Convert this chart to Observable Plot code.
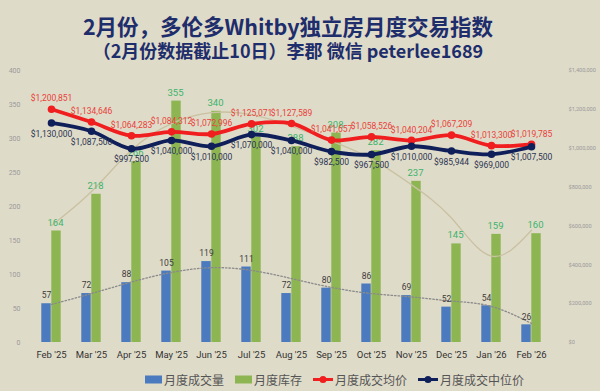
<!DOCTYPE html>
<html><head><meta charset="utf-8">
<script src="https://cdn.jsdelivr.net/npm/d3@7"></script>
<script src="https://cdn.jsdelivr.net/npm/@observablehq/plot@0.6"></script>
<style>
html,body{margin:0;padding:0;background:#DFDBC9;}
#wrap{position:relative;width:600px;height:391px;overflow:hidden;background:#DFDBC9;}
.t{position:absolute;left:0;width:576px;text-align:center;font-family:"Noto Sans CJK SC";font-weight:bold;color:#1E2D6B;line-height:1;white-space:nowrap;}
#t1{top:15px;font-size:21.5px;}
#t2{top:41px;font-size:18px;}
#chart{position:absolute;left:0;top:62px;}
#legend{position:absolute;top:371px;left:145px;height:16px;display:flex;align-items:center;font-family:"Noto Sans CJK SC";font-size:12px;color:#555;white-space:nowrap;}
#legend .it{display:flex;align-items:center;margin-right:11px;}
#legend svg{margin-right:2px;}
</style></head>
<body><div id="wrap">
<div class="t" id="t1">2月份，多伦多Whitby独立房月度交易指数</div>
<div class="t" id="t2">（2月份数据截止10日）李郡 微信 peterlee1689</div>
<div id="chart"></div>
<div id="legend"></div>
</div>
<script>
const months = ["Feb '25","Mar '25","Apr '25","May '25","Jun '25","Jul '25","Aug '25","Sep '25","Oct '25","Nov '25","Dec '25","Jan '26","Feb '26"];
const volume = [57,72,88,105,119,111,72,80,86,69,52,54,26];
const inventory = [164,218,266,355,340,302,288,308,282,237,145,159,160];
const avgPrice = [1200851,1134646,1064283,1084312,1072996,1125071,1127589,1041657,1058526,1040204,1067209,1013300,1019785];
const medPrice = [1130000,1087500,997500,1040000,1010000,1070000,1040000,982500,967500,1010000,985944,969000,1007500];
const volTrend = [56,72,89,103,110,106,94,81,72,67,61,53,28];
const invTrend = [172,222,283,322,338,335,318,296,270,232,183,127,165];
const leftTicks = [0,50,100,150,200,250,300,350,400];
const rightTicks = [0,200000,400000,600000,800000,1000000,1200000,1400000];
const seriesNames = ["月度成交量","月度库存","月度成交均价","月度成交中位价"];
const colors = {vol:"#4B7BBE", inv:"#8DB653", avg:"#F01E1E", med:"#0F1F5A"};

const K = 3500; // right axis: $1,400,000 <-> 400
const fmt$ = v => "$" + d3.format(",")(v);
const data = months.map((m,i)=>({m, vol:volume[i], inv:inventory[i], avg:avgPrice[i]/K, med:medPrice[i]/K,
  avgRaw:avgPrice[i], medRaw:medPrice[i], vt:volTrend[i], it:invTrend[i]}));

const chart = Plot.plot({
  width:600, height:305, marginLeft:27, marginRight:45, marginTop:8, marginBottom:25,
  style:{background:"transparent", fontFamily:"Roboto, sans-serif", overflow:"visible"},
  x:{type:"band", domain:months, padding:0},
  y:{domain:[0,400]},
  marks:[
    Plot.axisY({ticks:leftTicks, tickSize:0, tickPadding:7, fontSize:7, color:"#9a9a9a", label:null}),
    Plot.axisY({anchor:"right", ticks:rightTicks.map(v=>v/K), tickFormat:d=>fmt$(Math.round(d*K)), tickSize:0, tickPadding:13, fontSize:5.6, color:"#9a9a9a", label:null}),
    Plot.axisX({tickSize:0, tickPadding:9, fontSize:9.5, color:"#333", label:null}),
    Plot.barY(data,{x:"m", y:"vol", fill:colors.vol, insetLeft:10.3, insetRight:20.3}),
    Plot.barY(data,{x:"m", y:"inv", fill:colors.inv, insetLeft:20.3, insetRight:10.3}),
    Plot.line(data,{x:"m", y:"it", stroke:"#C9C1A1", strokeWidth:1.3, curve:"natural"}),
    Plot.line(data,{x:"m", y:"vt", stroke:"#8a8a8a", strokeWidth:1.3, strokeDasharray:"1.5,2", curve:"natural"}),
    Plot.text(data,{x:"m", y:"vol", text:"vol", dx:-5, dy:-8, fontSize:8.5, fill:"#3c3c3c"}),
    Plot.text(data,{x:"m", y:"inv", text:"inv", dx:4, dy:-8.5, fontSize:9.5, fill:"#3DB46A"}),
    Plot.line(data,{x:"m", y:"avg", stroke:colors.avg, strokeWidth:3.8, curve:"catmull-rom"}),
    Plot.dot(data,{x:"m", y:"avg", r:3.8, fill:colors.avg}),
    Plot.line(data,{x:"m", y:"med", stroke:colors.med, strokeWidth:3.8, curve:"catmull-rom"}),
    Plot.dot(data,{x:"m", y:"med", r:3.8, fill:colors.med}),
    Plot.text(data,{x:"m", y:"avg", text:d=>fmt$(d.avgRaw), dy:-10.5, fontSize:8.5, fill:"#E8423A"}),
    Plot.text(data,{x:"m", y:"med", text:d=>fmt$(d.medRaw), dy:11, fontSize:8.5, fill:"#2B3552"})
  ]
});
document.getElementById("chart").appendChild(chart);

const leg = document.getElementById("legend");
const icons = [
  `<svg width="17" height="9"><rect x="0" y="0.5" width="17" height="8" fill="${colors.vol}"/></svg>`,
  `<svg width="17" height="9"><rect x="0" y="0.5" width="17" height="8" fill="${colors.inv}"/></svg>`,
  `<svg width="20" height="9"><line x1="0" y1="4.5" x2="20" y2="4.5" stroke="${colors.avg}" stroke-width="3"/><circle cx="10" cy="4.5" r="3.5" fill="${colors.avg}"/></svg>`,
  `<svg width="20" height="9"><line x1="0" y1="4.5" x2="20" y2="4.5" stroke="${colors.med}" stroke-width="3"/><circle cx="10" cy="4.5" r="3.5" fill="${colors.med}"/></svg>`
];
seriesNames.forEach((n,i)=>{
  const d = document.createElement("div");
  d.className = "it";
  d.innerHTML = icons[i] + `<span>${n}</span>`;
  leg.appendChild(d);
});
</script>
</body></html>
